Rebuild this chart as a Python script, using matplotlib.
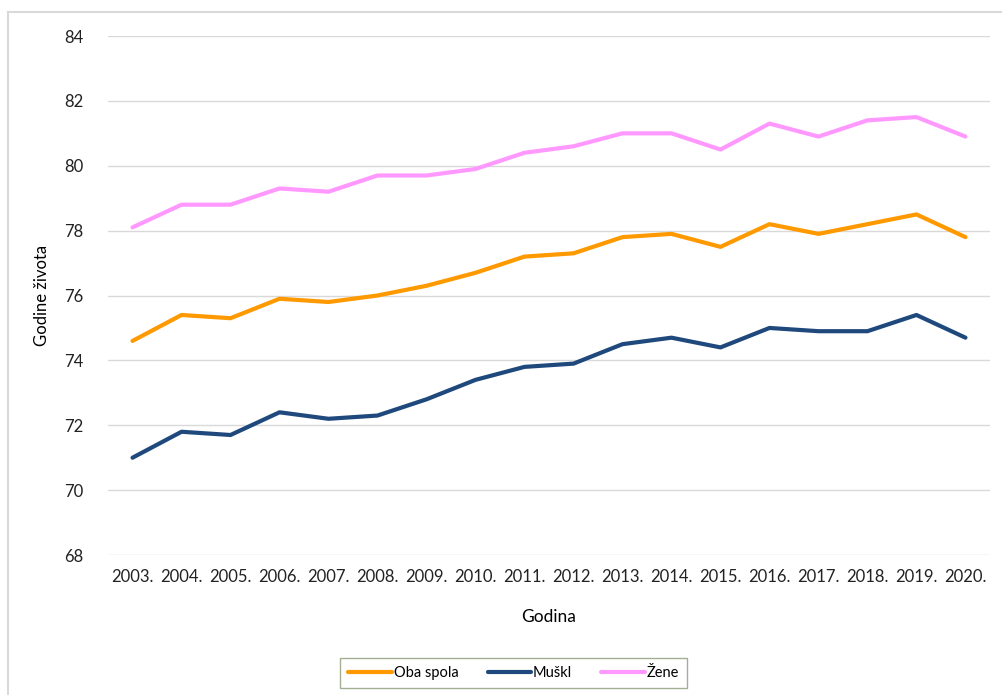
import matplotlib.pyplot as plt
from matplotlib.lines import Line2D

years = ['2003.', '2004.', '2005.', '2006.', '2007.', '2008.', '2009.', '2010.', '2011.',
         '2012.', '2013.', '2014.', '2015.', '2016.', '2017.', '2018.', '2019.', '2020.']
oba_spola = [74.6, 75.4, 75.3, 75.9, 75.8, 76.0, 76.3, 76.7, 77.2,
             77.3, 77.8, 77.9, 77.5, 78.2, 77.9, 78.2, 78.5, 77.8]
muski = [71.0, 71.8, 71.7, 72.4, 72.2, 72.3, 72.8, 73.4, 73.8,
         73.9, 74.5, 74.7, 74.4, 75.0, 74.9, 74.9, 75.4, 74.7]
zene = [78.1, 78.8, 78.8, 79.3, 79.2, 79.7, 79.7, 79.9, 80.4,
        80.6, 81.0, 81.0, 80.5, 81.3, 80.9, 81.4, 81.5, 80.9]

plt.rcParams['font.family'] = ['Lato', 'DejaVu Sans']

fig = plt.figure(figsize=(10.03, 6.95), dpi=100)
ax = fig.add_axes([0.1077, 0.2014, 0.8793, 0.7468])

x = range(len(years))
ax.plot(x, oba_spola, color='#FF9900', lw=3, label='Oba spola', solid_capstyle='round')
ax.plot(x, muski, color='#1F497D', lw=3, label='Muškl', solid_capstyle='round')
ax.plot(x, zene, color='#FF99FF', lw=3, label='Žene', solid_capstyle='round')

ax.set_xlim(-0.5, len(years) - 0.5)
ax.set_ylim(68, 84)
ax.set_yticks(range(68, 85, 2))
ax.set_xticks(list(x))
ax.set_xticklabels(years)
ax.tick_params(axis='both', length=0, labelsize=12, colors='#222222')
ax.tick_params(axis='y', pad=18)
ax.tick_params(axis='x', pad=10)
ax.grid(axis='y', color='#d9d9d9', lw=1)
ax.set_axisbelow(True)
for s in ax.spines.values():
    s.set_visible(False)

ax.set_xlabel('Godina', fontsize=12.5, labelpad=17)
ax.set_ylabel('Godine života', fontsize=12, labelpad=10)

leg = fig.legend(loc='center', bbox_to_anchor=(0.512, 0.0317), ncol=3, fontsize=10.5,
                 frameon=True, fancybox=False, handlelength=3.0, handletextpad=0.1,
                 columnspacing=2.0, borderpad=0.55, borderaxespad=0)
leg.get_frame().set_edgecolor('#8c9a7a')
leg.get_frame().set_linewidth(1)

# outer chart border (left and top)
fig.add_artist(Line2D([0.008, 0.008], [0.0, 0.983], color='#d9d9d9', lw=1.5))
fig.add_artist(Line2D([0.008, 1.0], [0.983, 0.983], color='#d9d9d9', lw=1.5))

fig.savefig('out.png', dpi=100)
